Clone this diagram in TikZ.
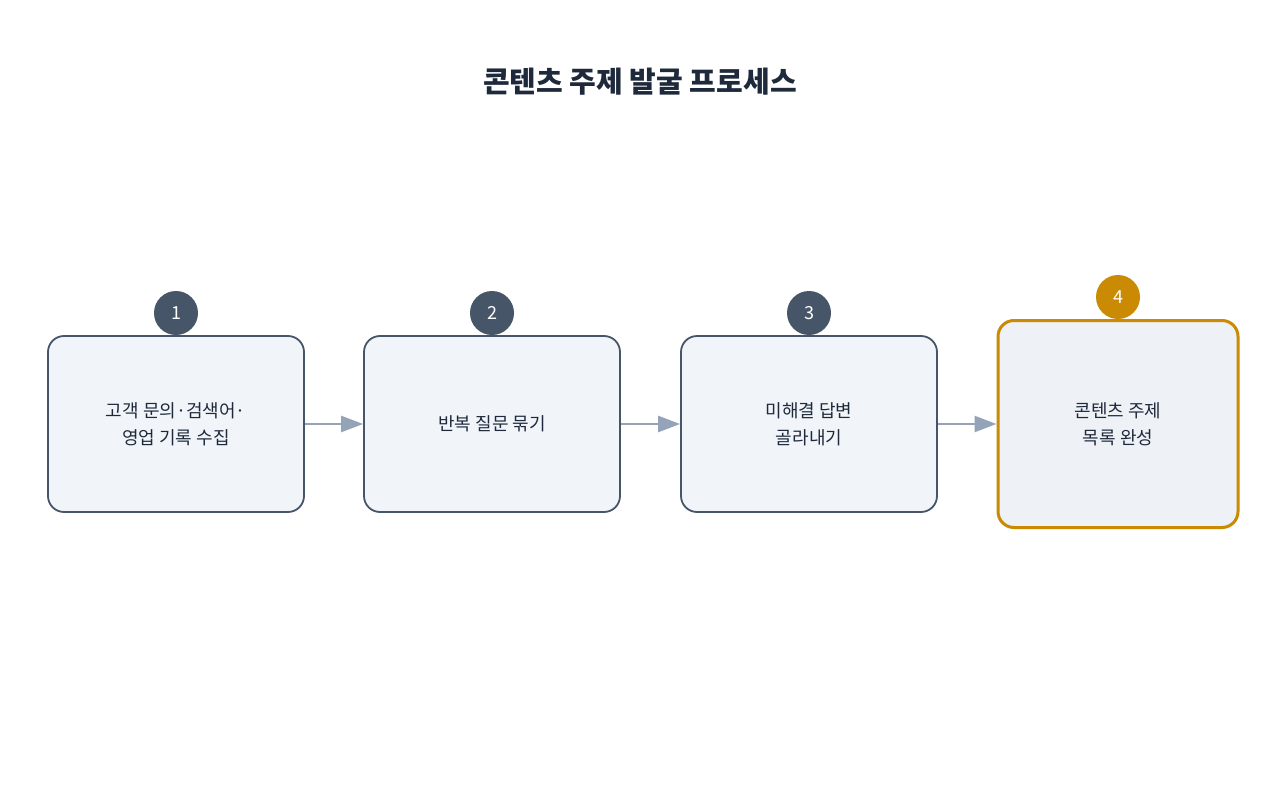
\documentclass[tikz,border=0pt]{standalone}
\usepackage{fontspec}
\setmainfont{Noto Sans CJK KR}
\usetikzlibrary{arrows.meta}
\definecolor{boxfill}{HTML}{F1F5F9}
\definecolor{boxline}{HTML}{475569}
\definecolor{gold}{HTML}{CA8A04}
\definecolor{arrowc}{HTML}{94A3B8}
\definecolor{txt}{HTML}{1E293B}
\begin{document}
\begin{tikzpicture}[x=1pt,y=-1pt,
  box/.style={draw=boxline,line width=1.8pt,fill=boxfill,rounded corners=16pt,minimum width=256pt,minimum height=176pt,align=center,font=\fontsize{18}{27}\selectfont,text=txt},
  fbox/.style={box,draw=gold,line width=3pt,fill=boxfill!80!gray!10,minimum width=240pt,minimum height=207pt},
  badge/.style={circle,fill=boxline,minimum size=44pt,inner sep=0pt,text=white,font=\fontsize{18}{18}\selectfont},
  arr/.style={draw=arrowc,line width=2.5pt,-{Triangle[length=22pt,width=16pt]}}]
\useasboundingbox (0,0) rectangle (1280,800);
\node[text=txt,font=\fontsize{29}{34}\selectfont\bfseries] (title) at (640,82) {콘텐츠 주제 발굴 프로세스};
\node[box] (b1) at (176,424) {고객 문의·검색어·\\영업 기록 수집};
\node[box] (b2) at (492,424) {반복 질문 묶기};
\node[box] (b3) at (809,424) {미해결 답변\\골라내기};
\node[fbox,fill={rgb,255:red,238;green,242;blue,246}] (b4) at (1118,424) {콘텐츠 주제\\목록 완성};
\node[badge] (n1) at (176,313) {1};
\node[badge] (n2) at (492,313) {2};
\node[badge] (n3) at (809,313) {3};
\node[badge,fill=gold] (n4) at (1118,297) {4};
\draw[arr] (b1.east) -- (b2.west);
\draw[arr] (b2.east) -- (b3.west);
\draw[arr] (b3.east) -- (b4.west);
\end{tikzpicture}
\end{document}
